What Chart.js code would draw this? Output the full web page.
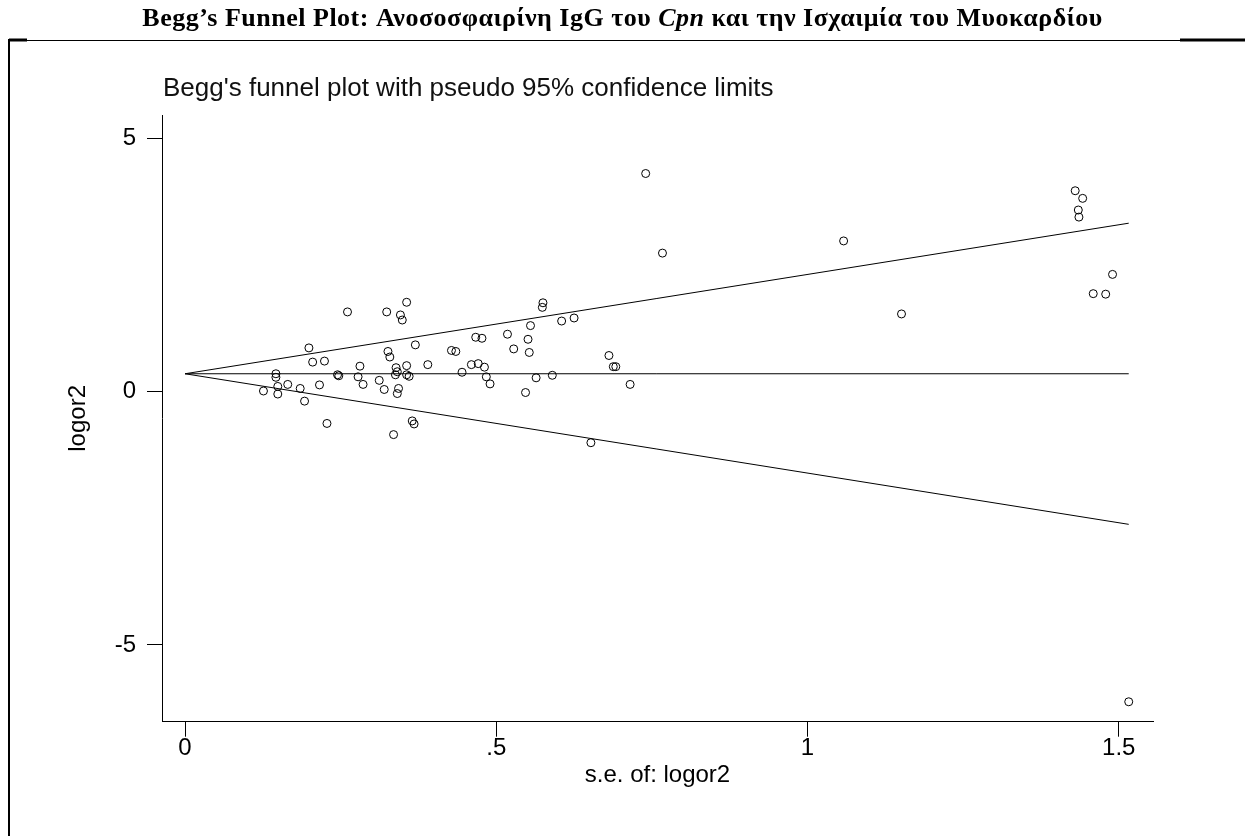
<!DOCTYPE html>
<html>
<head>
<meta charset="utf-8">
<title>Begg's Funnel Plot</title>
<script src="https://cdn.jsdelivr.net/npm/chart.js@4.4.1/dist/chart.umd.min.js"></script>
<style>
  html, body { margin: 0; padding: 0; background: #fff; }
  #wrap { position: relative; width: 1245px; height: 836px; overflow: hidden; }
  #plot { position: absolute; left: 0; top: 0; }
  #heading {
    position: absolute; left: 0; top: 5px; width: 1245px; text-align: center; white-space: nowrap;
    font: bold 26px 'Liberation Serif', 'Times New Roman', serif; line-height: 26px; color: #000;
    letter-spacing: 0.5px;
  }
  #subheading {
    position: absolute; left: 163px; top: 74px; white-space: nowrap;
    font: 26px 'Liberation Sans', Arial, sans-serif; line-height: 26px; color: #111;
  }
</style>
</head>
<body>
<div id="wrap">
  <canvas id="plot" width="1245" height="836"></canvas>
  <div id="heading">Begg’s Funnel Plot: Ανοσοσφαιρίνη IgG του <i>Cpn</i> και την Ισχαιμία του Μυοκαρδίου</div>
  <div id="subheading">Begg's funnel plot with pseudo 95% confidence limits</div>
</div>
<script>
  // standard error of each study (x) and its log odds ratio (y)
  const seValues = [
    0.126, 0.146, 0.146, 0.149, 0.149, 0.165, 0.185, 0.192, 0.199, 0.205,
    0.216, 0.224, 0.228, 0.245, 0.247, 0.261, 0.278, 0.281, 0.286, 0.312,
    0.320, 0.324, 0.326, 0.329, 0.335, 0.338, 0.339, 0.341, 0.341, 0.343,
    0.346, 0.349, 0.356, 0.356, 0.356, 0.360, 0.365, 0.368, 0.370, 0.390,
    0.428, 0.435, 0.445, 0.460, 0.467, 0.471, 0.477, 0.481, 0.484, 0.490,
    0.518, 0.528, 0.547, 0.551, 0.553, 0.555, 0.564, 0.574, 0.575, 0.590,
    0.605, 0.625, 0.652, 0.681, 0.688, 0.692, 0.715, 0.740, 0.767, 1.058,
    1.151, 1.430, 1.442, 1.435, 1.436, 1.459, 1.479, 1.490, 1.516
  ];
  const logorValues = [
    0.01, 0.35, 0.28, 0.10, -0.05, 0.14, 0.06, -0.19, 0.86, 0.58,
    0.13, 0.60, -0.63, 0.33, 0.31, 1.57, 0.29, 0.50, 0.14, 0.22,
    0.04, 1.57, 0.79, 0.68, -0.85, 0.33, 0.47, 0.39, -0.04, 0.06,
    1.51, 1.41, 1.76, 0.51, 0.33, 0.30, -0.58, -0.64, 0.92, 0.53,
    0.81, 0.79, 0.38, 0.53, 1.07, 0.55, 1.05, 0.48, 0.29, 0.15,
    1.13, 0.84, -0.02, 1.03, 0.77, 1.30, 0.27, 1.66, 1.75, 0.32,
    1.39, 1.45, -1.01, 0.71, 0.49, 0.49, 0.14, 4.30, 2.73, 2.97,
    1.53, 3.96, 3.81, 3.58, 3.44, 1.93, 1.92, 2.31, -6.12
  ];

  // funnel: pooled estimate and pseudo 95% limits, from se = 0 to the largest se
  const funnelSe = [0, 1.516];
  const pooledLine = [0.35, 0.35];
  const upperLimit = [0.35, 3.32];
  const lowerLimit = [0.35, -2.62];

  const xTicks = [0, 0.5, 1, 1.5];
  const xTickLabels = ['0', '.5', '1', '1.5'];
  const yTicks = [-5, 0, 5];

  const axisFont = { family: "'Liberation Sans', Arial, sans-serif", size: 24, lineHeight: 1 };
  const ink = '#000';

  const toXY = (xs, ys) => xs.map((x, i) => ({ x, y: ys[i] }));

  function lineSet(values) {
    return {
      type: 'line',
      data: toXY(funnelSe, values),
      borderColor: ink,
      borderWidth: 1,
      pointRadius: 0,
      fill: false,
      tension: 0
    };
  }

  const framePlugin = {
    id: 'frame',
    beforeDraw(chart) {
      const { ctx } = chart;
      ctx.save();
      ctx.fillStyle = '#fff';
      ctx.fillRect(0, 0, chart.width, chart.height);
      ctx.strokeStyle = ink;
      ctx.lineWidth = 1;
      ctx.beginPath();
      ctx.moveTo(9, 40.5);
      ctx.lineTo(1245, 40.5);
      ctx.stroke();
      ctx.lineWidth = 3;
      ctx.beginPath();
      ctx.moveTo(9, 40);
      ctx.lineTo(27, 40);
      ctx.moveTo(1180, 40);
      ctx.lineTo(1245, 40);
      ctx.stroke();
      ctx.lineWidth = 2;
      ctx.beginPath();
      ctx.moveTo(9, 39);
      ctx.lineTo(9, 836);
      ctx.stroke();
      ctx.restore();
    }
  };

  new Chart(document.getElementById('plot'), {
    type: 'scatter',
    data: {
      datasets: [
        lineSet(upperLimit),
        lineSet(pooledLine),
        lineSet(lowerLimit),
        {
          label: 'studies',
          data: toXY(seValues, logorValues),
          pointStyle: 'circle',
          pointRadius: 4,
          pointBorderWidth: 1,
          pointBorderColor: ink,
          pointBackgroundColor: 'rgba(0,0,0,0)'
        }
      ]
    },
    options: {
      responsive: false,
      animation: false,
      layout: { padding: { top: 115, right: 92, bottom: 0, left: 0 } },
      plugins: {
        legend: { display: false },
        tooltip: { enabled: false }
      },
      scales: {
        x: {
          type: 'linear',
          min: -0.037,
          max: 1.555,
          afterFit: (scale) => { scale.height = 114.3; },
          afterBuildTicks: (scale) => { scale.ticks = xTicks.map((value) => ({ value })); },
          ticks: {
            color: ink,
            font: axisFont,
            padding: 0,
            maxRotation: 0,
            autoSkip: false,
            callback: (value, index) => xTickLabels[index]
          },
          grid: { drawOnChartArea: false, drawTicks: true, tickLength: 15, color: ink, lineWidth: 1 },
          border: { display: true, color: ink, width: 1 },
          title: {
            display: true,
            text: 's.e. of: logor2',
            color: ink,
            font: { family: axisFont.family, size: 24, lineHeight: 1.2 },
            padding: { top: 0, bottom: 46 }
          }
        },
        y: {
          type: 'linear',
          min: -6.513,
          max: 5.454,
          afterFit: (scale) => { scale.width = 162; },
          afterBuildTicks: (scale) => { scale.ticks = yTicks.map((value) => ({ value })); },
          ticks: {
            color: ink,
            font: axisFont,
            padding: 11,
            autoSkip: false,
            callback: (value) => String(value)
          },
          grid: { drawOnChartArea: false, drawTicks: true, tickLength: 15, color: ink, lineWidth: 1 },
          border: { display: true, color: ink, width: 1 },
          title: {
            display: true,
            text: 'logor2',
            color: ink,
            font: { family: axisFont.family, size: 24, lineHeight: 1.2 },
            padding: { top: 64, bottom: 0 }
          }
        }
      }
    },
    plugins: [framePlugin]
  });
</script>
</body>
</html>
